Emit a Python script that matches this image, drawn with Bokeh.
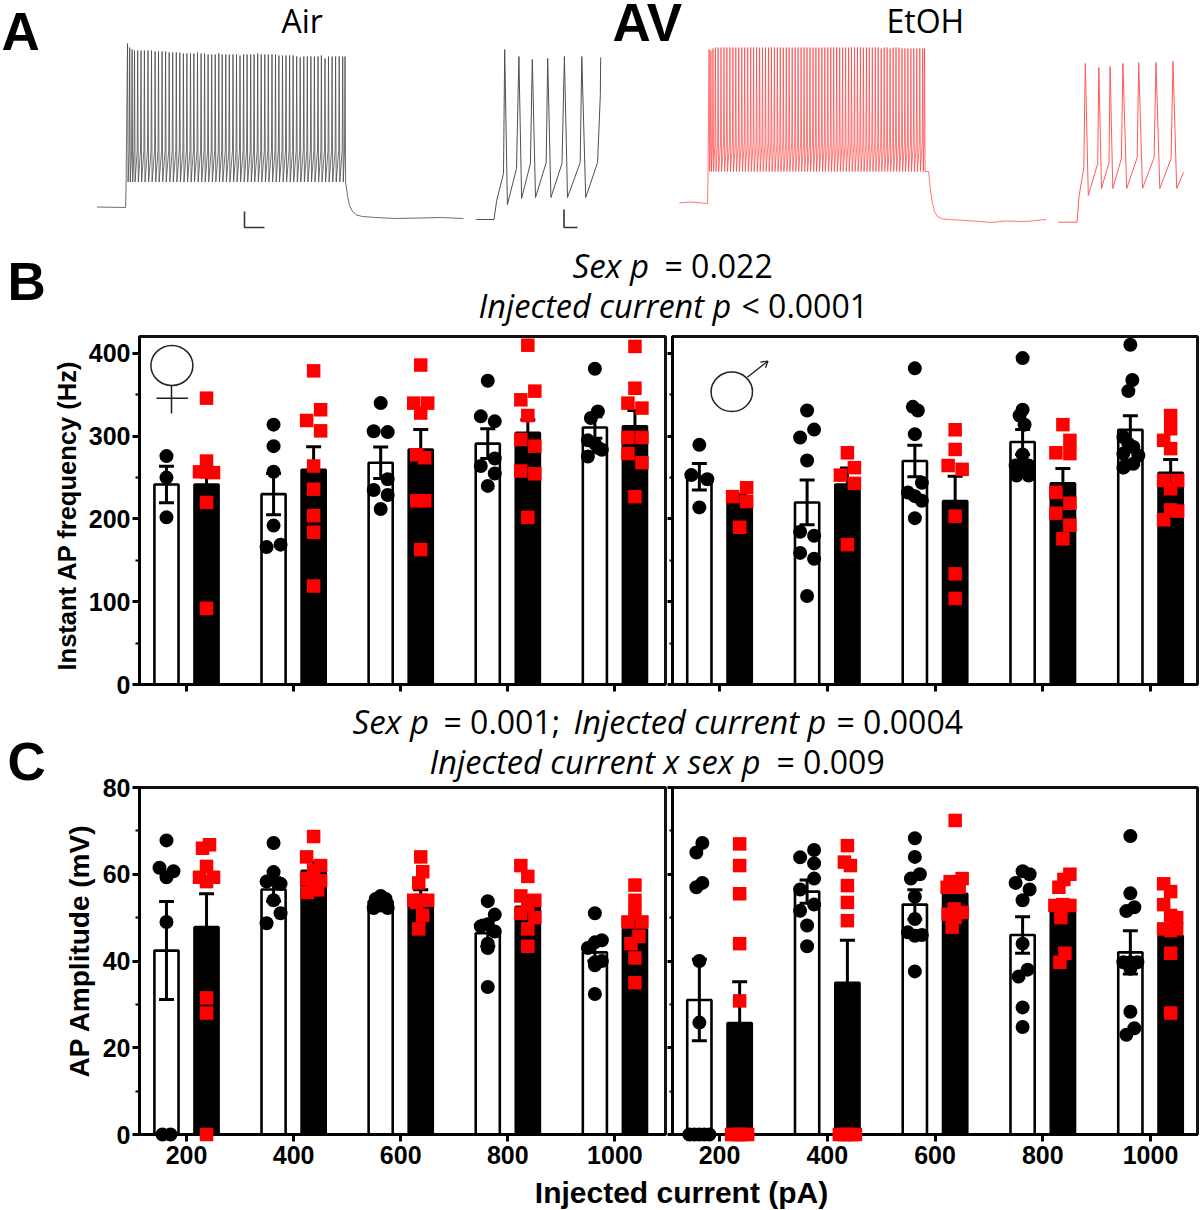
from bokeh.plotting import figure
from bokeh.layouts import column, row
from bokeh.embed import file_html
from bokeh.resources import INLINE
from bokeh.core.properties import value
from bokeh.models import FixedTicker, Range1d, Title

# ---------- data ----------
currents = [200, 400, 600, 800, 1000]

# Panel B, instant AP frequency (Hz)
b_f_air_mean = [241.7, 230, 268, 291, 310.6]
b_f_air_sem = [22, 25, 19, 18, 13]
b_f_etoh_mean = [241.7, 259.4, 284, 304, 312]
b_f_etoh_sem = [20, 28, 24, 16, 19]
b_m_air_mean = [251, 220, 270, 293, 307.7]
b_m_air_sem = [16, 27, 19, 15, 17]
b_m_etoh_mean = [219, 241.7, 221.6, 243, 255.8]
b_m_etoh_sem = [11, 20, 30, 18, 16]

b_f_air_pts = [[276, 250, 202], [314, 288, 257, 192, 166, 169],
               [340, 306, 305, 248, 235, 229, 212], [367, 324, 318, 273, 264, 255, 240],
               [381.5, 330, 322, 295, 291, 283.6, 275.5, 286]]
b_f_air_jit = [[0, 0, 0], [0, 0, 0, 0, -7, 7],
               [0, -7, 7, 7, -7, 7, 0], [0, -7, 7, 7, -7, 7, 0],
               [0, 3, -4, -7, 0, 7, -7, 3]]
b_f_etoh_pts = [[346, 270, 257, 257, 256, 220, 92], [379, 332, 319, 306.5, 264, 236, 204, 184, 119],
                [386, 340, 340, 328, 277.5, 274, 222, 222, 163], [410, 354.5, 344, 325, 296, 288, 258, 254.6, 202],
                [408.5, 358, 340, 334, 298.5, 298.5, 279, 268, 227]]
b_f_etoh_jit = [[0, 0, -7, 0, 7, 0, 0], [0, 7, -7, 7, 0, 0, 0, 0, 0],
                [0, -7, 7, 0, -4, 4, -4, 4, 0], [0, 7, -7, 0, -7, 7, -7, 7, 0],
                [0, 0, -7, 7, -7, 7, -7, 7, 0]]
b_m_air_pts = [[289.6, 253, 248, 214], [331, 308, 298.5, 270.7, 184.5, 179.7, 159, 152, 107],
               [382, 335.5, 331, 302.5, 243.7, 232, 227.6, 222, 201],
               [394.4, 332, 325, 314, 278, 264.6, 264.6, 264.6, 252.6, 252.6],
               [410.5, 368, 354.5, 299, 291, 287, 279, 276.7, 264.6, 266.7, 262]]
b_m_air_jit = [[0, -8, 8, 0], [0, 7, -7, 0, -7, 7, -7, 7, 0],
               [0, -2, 3, 0, 7, -7, 0, 7, 0],
               [0, 0, -3, 2, 0, -7, 0, 6, -6, 6],
               [0, 2, -2, -7, -2, 3, -7, 8, -5, 3, -7]]
b_m_etoh_pts = [[237.7, 227, 221, 190], [280, 262, 253, 243, 169],
                [307.8, 284, 264.6, 260, 203.4, 133.7, 104],
                [314, 295, 280, 279, 232, 219, 207, 192.5, 176],
                [325, 309, 295, 285, 246.5, 246.5, 236.5, 211, 209.5, 199]]
b_m_etoh_jit = [[7, -7, 7, 0], [0, 7, -7, 7, 0],
                [0, 0, -7, 7, 0, 0, 0],
                [0, 7, -7, 7, -7, 7, -7, 7, 0],
                [0, 0, -7, 0, -7, 7, 0, 0, 7, -7]]

# Panel C, AP amplitude (mV)
c_f_air_mean = [42.4, 56.5, 53.8, 46.4, 42]
c_f_air_sem = [11.3, 2.7, 0.8, 3, 2]
c_f_etoh_mean = [47.8, 60.8, 52.4, 52.5, 47.3]
c_f_etoh_sem = [7.7, 2, 4, 2.5, 2]
c_m_air_mean = [31, 56, 53, 46, 42]
c_m_air_sem = [9.4, 2.7, 3.4, 4.2, 5]
c_m_etoh_mean = [25.7, 35, 55.5, 51.2, 45.8]
c_m_etoh_sem = [9.5, 9.8, 3, 2, 2]

c_f_air_pts = [[67.8, 61.5, 60.7, 59.3, 49, 0, 0], [67.2, 60.5, 58.3, 57.8, 54, 51, 48.7],
               [55, 54.3, 54.3, 52.2, 52.8, 52.2], [53.8, 50.7, 48.5, 48, 46.8, 44, 43, 34],
               [51, 44.8, 44.3, 43, 40, 39.7, 39, 32.4]]
c_f_air_jit = [[0, -7, 7, 0, 0, -4, 4], [0, 0, -7, 7, 0, 7, -7],
               [0, -5, 5, -7, 0, 7], [0, 7, 0, -7, 7, 0, 0, 0],
               [0, 7, 0, -7, 7, 0, 0, 0]]
c_f_etoh_pts = [[66.8, 66, 61.8, 59.3, 59.3, 58.3, 31.5, 28, 0], [68.7, 64, 62, 60.8, 59, 58.5, 57.8, 55.8, 56.4],
                [64, 60.6, 58, 54, 54, 54, 53.5, 50.5, 47.4], [62, 59.5, 55, 54, 53, 51, 50, 47.4, 43.4],
                [57.5, 54, 51.2, 49, 49, 45.7, 44, 40.7, 35]]
c_f_etoh_jit = [[3, -4, 0, -7, 7, 0, 0, 0, 0], [0, -7, 7, 0, -7, 7, 0, -6, 4],
                [0, 2, -2, -7, 0, 7, -4, 2, -2], [-7, 0, -7, 7, 0, -7, 7, 0, 0],
                [0, 0, 0, -7, 7, 4, -4, 0, 0]]
c_m_air_pts = [[67.2, 65, 58, 57, 40, 25.8, 0, 0, 0, 0, 0], [65.6, 63.9, 62.5, 59, 56.5, 53, 51.6, 48.2, 43.4],
               [68.3, 64, 60, 59, 54.8, 49.7, 46.6, 45.8, 46, 37.6],
               [60.7, 60, 58, 56.5, 54, 44, 38, 36.4, 29.3, 24.8],
               [68.8, 55.6, 52.4, 51.5, 39.7, 39.7, 39.7, 38.2, 28.3, 24.5, 23]]
c_m_air_jit = [[3, -3, 3, -3, 0, 0, -10, -5, 0, 5, 10], [7, -7, 7, 7, -7, 7, -7, 0, 0],
               [0, 0, 5, -4, 0, 0, -7, 0, 7, 0],
               [0, 7, -7, 7, 0, 0, 5, -4, 0, 0],
               [0, 0, 4, -4, -7, 0, 7, 0, 0, 4, -4]]
c_m_etoh_pts = [[67, 62, 55.5, 44, 30.8, 0, 0, 0, 0, 0], [66.6, 62.8, 62, 57.4, 53.5, 49.3, 0, 0, 0, 0, 0],
                [72.4, 59, 58.3, 57, 57, 52, 50.8, 51.2, 50, 47.8],
                [60, 58.8, 57, 52.8, 53, 52.8, 50, 41.8, 39.7],
                [57.8, 56, 53, 50, 50.5, 47.4, 47.4, 47, 41.8, 28]]
c_m_etoh_jit = [[0, 0, 0, 0, 0, -8, -3, 0, 3, 8], [0, -3, 3, 0, 0, 0, -8, -3, 0, 3, 8],
                [0, 7, -5, 4, -8, -1, -7, 7, 0, -3],
                [7, 1, -4, -8, 0, 7, -2, 2, -3],
                [-7, 0, -7, 6, 0, -7, 6, 0, 0, 0]]

tick_labels = ["200", "400", "600", "800", "1000"]

# Panel A traces (page pixel units)
air_start = 127.0
air_isi = [2.2, 2.4, 2.4, 3.2, 3.3, 3.4, 3.6, 3.5, 3.6, 3.4, 3.6, 3.5, 3.6, 3.5, 3.6, 3.5, 3.6, 3.5, 3.6, 3.4,
           3.6, 3.6, 3.5, 3.5, 3.6, 3.5, 3.6, 3.4, 3.6, 3.5, 3.7, 3.5, 3.5, 3.6, 3.5, 3.6, 3.4, 3.6, 3.5, 3.6,
           3.5, 3.7, 3.5, 3.4, 3.6, 3.5, 3.6, 3.5, 3.6, 3.5, 3.6, 3.5, 3.6, 3.5, 3.6, 3.4, 3.6, 3.5, 3.6, 3.5,
           3.6, 3.5, 2.3]
air_peak = [43, 47, 49, 50, 50, 50, 50, 50, 50, 51, 51, 51, 51, 52, 52, 52, 52, 53, 53, 53, 53, 52, 53, 53, 54, 54,
            54, 53, 54, 54, 54, 54, 54, 55, 54, 54, 54, 54, 53, 54, 54, 54, 54, 54, 55, 55, 55, 55, 55, 56, 57, 56,
            56, 56, 56, 56, 55, 58, 56, 56, 56, 56, 56, 56]
air_tail_x = [345, 347, 349, 352, 356, 362, 375, 395, 420, 440, 463]
air_tail_y = [181, 195, 205, 211, 214.5, 216, 217, 218, 217.5, 217, 218]
air_base_x = [96.5, 125, 125.5]
air_base_y = [206.5, 207, 190]
air_zoom_x = [475.7, 493.5, 496.2, 503, 504.2, 506.9, 516, 518.4, 521.1, 529.9, 531.8, 535, 545.7, 547.2, 550.4,
              561.5, 563.9, 567, 579.7, 581.3, 585.2, 597.1, 599.8, 600.2]
air_zoom_y = [219, 219, 200, 173, 49, 204, 168, 56, 198, 163, 59, 197, 162, 58, 197, 163, 56, 197, 162, 56, 197,
              162, 95, 57]

etoh_start = 708.6
etoh_isi = [1.8, 2.1, 2.4, 2.7, 2.9, 3.0, 2.9, 3.0, 3.0, 2.9, 3.0, 3.0, 2.9, 3.0, 3.0, 2.9, 3.0, 3.0, 2.9, 3.0,
            3.0, 2.9, 3.0, 3.0, 2.9, 3.0, 3.0, 2.9, 3.0, 3.0, 2.9, 3.0, 3.0, 2.9, 3.0, 3.0, 2.9, 3.0, 3.0, 2.9,
            3.0, 3.0, 2.9, 3.0, 3.0, 2.9, 3.0, 3.0, 2.9, 3.0, 3.0, 2.9, 3.0, 3.0, 2.9, 3.0, 3.0, 2.9, 3.0, 3.0,
            2.9, 3.0, 3.0, 2.9, 3.0, 3.0, 2.9, 3.0, 3.0, 2.9, 3.0, 3.0, 2.9, 1.8]
etoh_peak = [49, 50, 48, 47, 47, 47, 47, 47, 47, 47, 47, 47, 47, 47, 47, 47, 47, 47, 47, 47, 47, 47, 47, 47, 47,
             47, 47, 47, 47, 47, 47, 47, 47, 47, 47, 47, 47, 47, 47, 47, 47, 47, 47, 47, 47, 47, 47, 47, 47, 47,
             47, 47, 47, 47, 47, 47, 47, 47, 47, 48, 47, 47, 48, 47, 47, 47, 48, 48, 48, 48, 48, 48, 48, 48, 48]
etoh_tail_x = [928, 930, 932, 934, 937, 942, 950, 965, 980, 990, 1005, 1025, 1045.7]
etoh_tail_y = [171, 190, 203, 211, 216, 218.5, 219, 220, 221, 222, 220.5, 221, 219]
etoh_base_x = [678.9, 690, 707, 707.5]
etoh_base_y = [202.5, 201.5, 203, 177]
etoh_zoom_x = [1057.7, 1076.5, 1078.4, 1083.3, 1084.8, 1087.8, 1097.2, 1098.3, 1101, 1108.5, 1109.6, 1112.3, 1120.9,
               1122.4, 1126.2, 1136.7, 1138.2, 1142, 1153.6, 1155.5, 1159.3, 1170.6, 1172.5, 1176.2, 1183]
etoh_zoom_y = [221.7, 221.7, 197, 167, 63, 195, 163, 67, 188, 162, 66, 188, 158, 63, 188, 157, 62, 188, 157, 62,
               188, 158, 61, 188, 172]

SANS = "Open Sans"
BOLD = "Liberation Sans"

# ---------- geometry of the panels (page pixels) ----------
SP_L, X0_L = 107.1, 186.0
SP_R, X0_R = 107.75, 719.0
OFF = 0.187
BAR_W = 0.225


def blank(w, h, y_top, y_bot):
    p = figure(width=w, height=h, output_backend="svg", toolbar_location=None,
               x_range=Range1d(0, w), y_range=Range1d(y_bot, y_top),
               x_axis_location=None, y_axis_location=None,
               min_border=0, min_border_left=0, min_border_right=0, min_border_top=0, min_border_bottom=0,
               outline_line_color=None, background_fill_color=None, border_fill_color=None)
    p.grid.visible = False
    return p


def txt(p, x, y, s, font=SANS, size=32, style="normal", color="black", align="left"):
    """y is the middle of the capital letters of the text"""
    p.text([x], [y], text=[s], text_font=value(font), text_font_size=f"{size}px",
           text_font_style=style, text_color=color, text_align=align, text_baseline="middle")


def spikes(start, isi, peak, trough, thresh):
    xs, ys = [], []
    t = start
    for i, pk in enumerate(peak):
        xs += [t, t + 0.6]
        ys += [pk, trough]
        if i < len(isi):
            xs.append(t + isi[i] - 0.5)
            ys.append(thresh)
            t += isi[i]
    return xs, ys


# ---------- top strip: panel A and the statistics of B ----------
top = blank(1200, 330, 0, 330)
ax, ay = spikes(air_start, air_isi, air_peak, 181.5, 150)
top.line(air_base_x + ax + air_tail_x, air_base_y + ay + air_tail_y, line_color="#4a4a4a", line_width=0.8)
top.line(air_zoom_x, air_zoom_y, line_color="#505050", line_width=1)
ex, ey = spikes(etoh_start, etoh_isi, etoh_peak, 171, 143)
top.line(etoh_base_x + ex + etoh_tail_x, etoh_base_y + ey + etoh_tail_y, line_color="#ff3c3c", line_width=0.7)
top.line(etoh_zoom_x, etoh_zoom_y, line_color="#ff5a5a", line_width=1)
top.line([244, 244, 264], [211, 227, 227], line_color="#333333", line_width=1.6)
top.line([563.5, 563.5, 577], [209, 227, 227], line_color="#333333", line_width=1.6)
txt(top, 281, 20, "Air")
txt(top, 886, 20, "EtOH")
txt(top, 1, 31, "A", BOLD, 53, "bold")
txt(top, 612, 22, "AV", BOLD, 53, "bold")
txt(top, 7, 281, "B", BOLD, 53, "bold")
txt(top, 572, 265, "Sex p", size=33, style="italic")
txt(top, 664, 265, "= 0.022")
txt(top, 478, 305, "Injected current p", size=32.5, style="italic")
txt(top, 741, 305, "< 0.0001")

# ---------- middle strip (runs under the top border of panel C) ----------
mid = blank(1200, 90, 700, 790)
txt(mid, 7, 761, "C", BOLD, 53, "bold")
txt(mid, 352, 721, "Sex p", size=33, style="italic")
txt(mid, 443, 721, "= 0.001;")
txt(mid, 573, 721, "Injected current p", size=32.5, style="italic")
txt(mid, 836, 721, "= 0.0004")
txt(mid, 429, 761, "Injected current x sex p", size=32.5, style="italic")
txt(mid, 776, 761, "= 0.009")

# ---------- bottom strip ----------
bot = blank(1200, 38, 1172, 1210)
txt(bot, 681, 1192, "Injected current (pA)", BOLD, 30, "bold", align="center")


def panel(w, h, fl, fr, ft, fb, x0, sp, ymax, ymaj, ymin, ylabel, ylabel_size, ylabel_offset, xlabels,
          air, air_e, etoh, etoh_e, air_p, air_j, etoh_p, etoh_j, show_y):
    p = figure(width=w, height=h, output_backend="svg", toolbar_location=None,
               x_range=Range1d((fl - x0) / sp, (w - fr - x0) / sp), y_range=Range1d(0, ymax),
               min_border_left=fl, min_border_right=fr, min_border_top=ft, min_border_bottom=fb,
               background_fill_color=None, border_fill_color=None,
               outline_line_color="#111111", outline_line_width=3)
    p.grid.visible = False
    xs = list(range(5))
    p.vbar(x=[i - OFF for i in xs], top=air, width=BAR_W, fill_color="white", line_color="black", line_width=2.6)
    p.vbar(x=[i + OFF for i in xs], top=etoh, width=BAR_W, fill_color="black", line_color="black", line_width=2.6)
    cap = 7.5 / sp
    for off, m, e in ((-OFF, air, air_e), (OFF, etoh, etoh_e)):
        cx = [i + off for i in xs]
        lo = [a - b for a, b in zip(m, e)]
        hi = [a + b for a, b in zip(m, e)]
        p.segment(cx, lo, cx, hi, line_color="black", line_width=3)
        p.segment([c - cap for c in cx], hi, [c + cap for c in cx], hi, line_color="black", line_width=3)
        p.segment([c - cap for c in cx], lo, [c + cap for c in cx], lo, line_color="black", line_width=3)
    ax_, ay_, ex_, ey_ = [], [], [], []
    for i in xs:
        for v, j in zip(air_p[i], air_j[i]):
            ax_.append(i - OFF + j / sp)
            ay_.append(v)
        for v, j in zip(etoh_p[i], etoh_j[i]):
            ex_.append(i + OFF + j / sp)
            ey_.append(v)
    p.scatter(ax_, ay_, marker="circle", size=14, fill_color="black", line_color=None, level="overlay")
    p.scatter(ex_, ey_, marker="square", size=13.5, fill_color="#ff0000", line_color=None, level="overlay")

    xa, ya = p.xaxis[0], p.yaxis[0]
    xa.ticker = FixedTicker(ticks=xs)
    xa.major_label_overrides = {i: t for i, t in zip(xs, xlabels)}
    xa.axis_line_width = 3
    xa.major_tick_line_width = 3
    xa.major_tick_in = 0
    xa.major_tick_out = 7
    xa.minor_tick_line_color = None
    xa.major_label_text_font = BOLD
    xa.major_label_text_font_style = "bold"
    xa.major_label_text_font_size = "25px"
    xa.major_label_text_color = "black"
    xa.major_label_standoff = 4
    ya.ticker = FixedTicker(ticks=ymaj, minor_ticks=ymin)
    ya.axis_line_width = 3
    ya.major_tick_line_width = 3
    ya.major_tick_in = 0
    ya.major_tick_out = 7
    ya.minor_tick_line_width = 2
    ya.minor_tick_in = 0
    ya.minor_tick_out = 4
    ya.major_label_text_font = BOLD
    ya.major_label_text_font_style = "bold"
    ya.major_label_text_font_size = "25px"
    ya.major_label_text_color = "black"
    ya.major_label_standoff = 2
    if show_y:
        p.add_layout(Title(text=ylabel, align="left", offset=ylabel_offset, standoff=9, text_font=BOLD,
                           text_font_style="bold", text_font_size=ylabel_size, text_color="black"), "left")
    else:
        ya.major_label_overrides = {t: "" for t in ymaj}
        ya.major_label_standoff = 0
        ya.major_tick_out = 5
        ya.minor_tick_out = 3
    return p


blanks = ["", "", "", "", ""]
B_MAJ = [0, 100, 200, 300, 400]
B_MIN = [50, 150, 250, 350]
C_MAJ = [0, 20, 40, 60, 80]
C_MIN = [10, 30, 50, 70]

bf = panel(667, 370, 139, 2, 6, 16, X0_L, SP_L, 420.5, B_MAJ, B_MIN, "Instant AP frequency (Hz)", "25.5px", 14, blanks,
           b_f_air_mean, b_f_air_sem, b_f_etoh_mean, b_f_etoh_sem, b_f_air_pts, b_f_air_jit, b_f_etoh_pts,
           b_f_etoh_jit, True)
bm = panel(533, 370, 5, 3, 6, 16, X0_R - 667, SP_R, 420.5, B_MAJ, B_MIN, "", "", 0, blanks,
           b_m_air_mean, b_m_air_sem, b_m_etoh_mean, b_m_etoh_sem, b_m_air_pts, b_m_air_jit, b_m_etoh_pts,
           b_m_etoh_jit, False)
cf = panel(667, 399, 139, 2, 14, 38, X0_L, SP_L, 80, C_MAJ, C_MIN, "AP Amplitude (mV)", "28px", 57, tick_labels,
           c_f_air_mean, c_f_air_sem, c_f_etoh_mean, c_f_etoh_sem, c_f_air_pts, c_f_air_jit, c_f_etoh_pts,
           c_f_etoh_jit, True)
cm = panel(533, 399, 5, 3, 14, 38, X0_R - 667, SP_R, 80, C_MAJ, C_MIN, "", "", 0, tick_labels,
           c_m_air_mean, c_m_air_sem, c_m_etoh_mean, c_m_etoh_sem, c_m_air_pts, c_m_air_jit, c_m_etoh_pts,
           c_m_etoh_jit, False)

# sex symbols, placed in the panels' own scales
hz = lambda py: (684 - py) / 0.8275
xl = lambda px: (px - X0_L) / SP_L
xr_ = lambda px: (px - X0_R) / SP_R
bf.ellipse(xl(171.4), hz(365), width=42 / SP_L, height=40 / 0.8275, fill_color=None, line_color="#222222", line_width=1.5)
bf.line([xl(171), xl(171)], [hz(385), hz(413)], line_color="#222222", line_width=1.5)
bf.line([xl(156), xl(187.6)], [hz(397.7), hz(397.7)], line_color="#222222", line_width=1.5)
bm.ellipse(xr_(731.3), hz(391.3), width=41.4 / SP_R, height=39.4 / 0.8275, fill_color=None, line_color="#222222", line_width=1.5)
bm.line([xr_(746.8), xr_(767.4)], [hz(376.7), hz(360.7)], line_color="#222222", line_width=1.3)
bm.line([xr_(759.9), xr_(767.4), xr_(765)], [hz(361.7), hz(360.7), hz(367.3)], line_color="#222222", line_width=1.3)

page = column(top, row(bf, bm, spacing=0), mid, row(cf, cm, spacing=0, margin=(-17, 0, 0, 0)), bot, spacing=0)
open("out.html", "w").write(file_html(page, INLINE))
